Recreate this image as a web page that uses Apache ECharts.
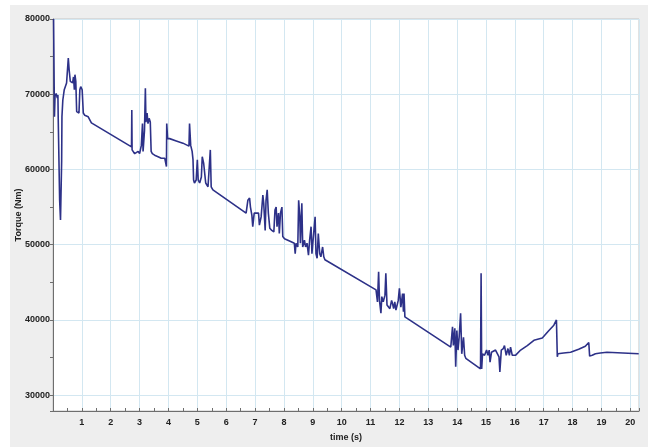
<!DOCTYPE html>
<html>
<head>
<meta charset="utf-8">
<script src="https://cdn.jsdelivr.net/npm/echarts@6/dist/echarts.min.js"></script>
<style>
  html, body { margin: 0; padding: 0; background: #ffffff; }
  #frame { position: absolute; left: 10px; top: 5px; width: 638px; height: 442px; background: #eeeeee; }
  #chart { position: absolute; left: 0; top: 0; width: 648px; height: 448px; }
</style>
</head>
<body>
<div id="frame"></div>
<div id="chart"></div>
<script>
// Shaft torque trace over a 20 s run
const timeS = [
  0.02,0.05,0.07,0.11,0.15,0.17,0.18,0.23,0.26,0.30,
  0.31,0.34,0.39,0.44,0.47,0.53,0.56,0.60,0.64,0.68,
  0.71,0.74,0.76,0.79,0.82,0.85,0.90,0.93,0.96,1.01,
  1.05,1.10,1.22,1.28,1.33,2.72,2.73,2.74,2.83,2.95,
  3.00,3.06,3.10,3.12,3.17,3.20,3.22,3.26,3.29,3.33,
  3.37,3.40,3.44,3.52,3.64,3.75,3.81,3.87,3.93,3.94,
  3.97,4.04,4.27,4.50,4.71,4.73,4.77,4.82,4.85,4.87,
  4.90,4.96,5.00,5.03,5.08,5.14,5.17,5.22,5.29,5.37,
  5.42,5.45,5.48,5.54,6.69,6.75,6.81,6.84,6.89,6.92,
  6.97,7.04,7.12,7.15,7.21,7.27,7.30,7.35,7.38,7.42,
  7.46,7.51,7.58,7.65,7.69,7.73,7.76,7.81,7.84,7.88,
  7.93,7.96,8.02,8.25,8.36,8.39,8.42,8.48,8.51,8.55,
  8.57,8.62,8.65,8.71,8.75,8.80,8.85,8.89,8.94,8.97,
  9.03,9.08,9.11,9.15,9.19,9.24,9.28,9.34,9.38,9.42,
  11.19,11.24,11.28,11.31,11.36,11.39,11.44,11.50,11.53,11.57,
  11.61,11.67,11.73,11.76,11.80,11.84,11.88,11.96,12.00,12.05,
  12.11,12.14,12.16,12.19,13.78,13.84,13.87,13.92,13.95,13.99,
  14.03,14.07,14.12,14.16,14.22,14.26,14.30,14.81,14.83,14.85,
  14.88,14.95,15.02,15.07,15.11,15.14,15.19,15.33,15.39,15.45,
  15.48,15.53,15.60,15.64,15.70,15.76,15.81,15.85,15.91,16.02,
  16.20,16.43,16.66,16.95,17.18,17.35,17.44,17.47,17.49,17.69,
  17.93,18.21,18.44,18.56,18.59,18.68,18.79,18.85,18.96,19.19,
  19.25,20.29
];

const torqueNm = [
  80000,67000,69700,70100,69500,69900,67000,55900,53300,61200,
  67000,69200,70600,70700,71500,74800,73200,71700,71900,71500,
  72300,70600,72600,71700,67700,67500,67500,70600,71000,70600,
  67500,67200,67000,66800,66200,63000,67900,62600,62100,62400,
  62100,63200,66100,62400,65200,70800,66300,67500,66100,66800,
  66300,62400,62100,61900,61700,61500,61300,61500,60400,66100,
  64100,64100,63800,63500,63100,66100,63200,62400,61300,58600,
  58200,58600,61300,58600,58200,59000,61700,60800,58200,57700,
  57900,62600,57700,57300,54200,55900,56200,55000,53900,52400,
  54200,54200,54200,52600,53700,56600,55500,51900,55900,57300,
  54200,52200,51900,51700,54600,55000,52400,54200,51500,54200,
  55000,51100,50800,50400,50200,48800,50200,49700,55900,53700,
  50200,55500,49700,50600,49700,50200,48600,50600,52400,48800,
  51500,53700,48800,48200,51500,48800,48400,49700,48400,48000,
  44000,42400,46400,42600,40900,43100,42400,43300,46200,42000,
  42200,41500,42600,42200,41500,42400,41300,42600,44200,41700,
  43500,41100,43500,40400,36400,39100,36600,38900,33800,38600,
  36000,37700,40900,35500,37700,35300,34900,33500,46200,33500,
  35500,35300,36000,35300,36000,34400,35700,36000,36200,35100,
  33100,36000,36200,36600,35300,36200,35300,36400,35300,35300,
  36000,36600,37300,37600,38600,39300,40000,35100,35500,35600,
  35700,36100,36500,37000,35200,35300,35500,35300,35600,35700,
  35500,35500
];

const xAxisTitle = 'time (s)';
const yAxisTitle = 'Torque (Nm)';

const points = timeS.map((t, i) => [t, torqueNm[i]]);

const labelFont = { fontFamily: 'Liberation Sans, Arial, sans-serif', fontWeight: 'bold', fontSize: 9, color: '#222' };
const gridBlue = '#d3e7f1';

const chart = echarts.init(document.getElementById('chart'), null, { renderer: 'canvas' });
chart.setOption({
  animation: false,
  backgroundColor: 'transparent',
  grid: {
    left: 53, right: 9, top: 19, bottom: 37,
    outerBoundsMode: 'none',
    containLabel: false,
    show: true, backgroundColor: '#ffffff', borderColor: '#c4c4c4', borderWidth: 1
  },
  xAxis: {
    type: 'value',
    min: 0, max: 20.3, interval: 1,
    name: xAxisTitle, nameLocation: 'middle', nameGap: 22, nameMoveOverlap: false,
    nameTextStyle: labelFont,
    axisLine: { show: true, lineStyle: { color: '#6e6e6e', width: 1 } },
    axisTick: { show: true, inside: true, length: 3, lineStyle: { color: '#6e6e6e' } },
    minorTick: { show: true, splitNumber: 2, length: 3, lineStyle: { color: '#6e6e6e' } },
    axisLabel: Object.assign({ margin: 7, showMinLabel: false, showMaxLabel: false }, labelFont),
    splitLine: { show: true, lineStyle: { color: gridBlue, width: 1 } }
  },
  yAxis: {
    type: 'value',
    min: 27900, max: 80000, splitNumber: 5,
    name: yAxisTitle, nameLocation: 'middle', nameGap: 30, nameMoveOverlap: false,
    nameTextStyle: labelFont,
    axisLine: { show: true, lineStyle: { color: '#6e6e6e', width: 1 } },
    axisTick: { show: true, length: 3, lineStyle: { color: '#6e6e6e' } },
    minorTick: { show: true, splitNumber: 2, length: 3, lineStyle: { color: '#6e6e6e' } },
    axisLabel: Object.assign({ margin: 3, showMinLabel: false, formatter: v => String(v) }, labelFont),
    splitLine: { show: true, lineStyle: { color: gridBlue, width: 1 } }
  },
  series: [{
    type: 'line',
    data: points,
    showSymbol: false,
    lineStyle: { color: '#2d3188', width: 1.6 },
    emphasis: { disabled: true }
  }]
});
</script>
</body>
</html>
